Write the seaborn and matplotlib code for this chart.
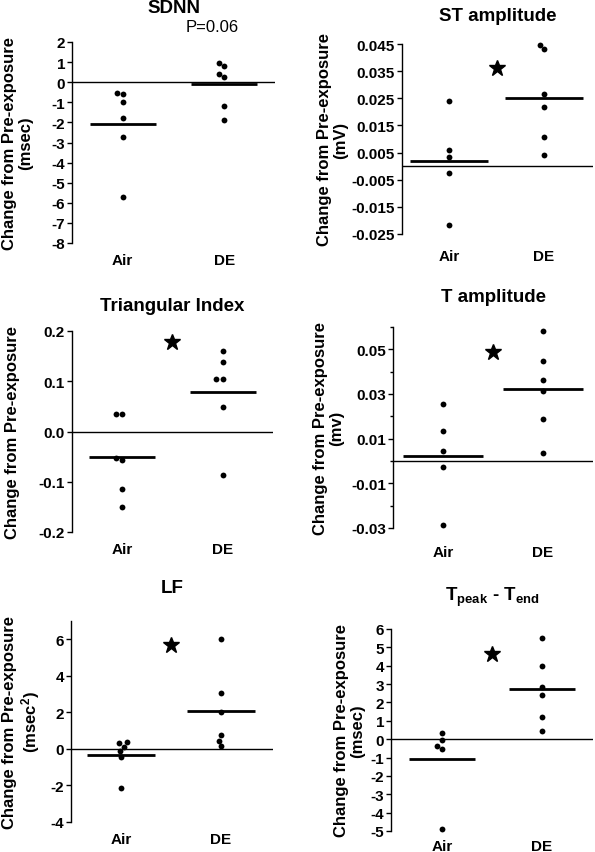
import numpy as np
import pandas as pd
import matplotlib
matplotlib.use("Agg")
import matplotlib.pyplot as plt
from matplotlib.ticker import FixedLocator, FormatStrFormatter
import seaborn as sns

sns.set_theme(style="ticks")
plt.rcParams['font.family'] = ['Liberation Sans', 'DejaVu Sans']
plt.rcParams['font.weight'] = 'bold'
plt.rcParams['axes.unicode_minus'] = False
plt.rcParams['mathtext.fontset'] = 'custom'
plt.rcParams['mathtext.rm'] = 'Liberation Sans'
plt.rcParams['mathtext.bf'] = 'Liberation Sans:bold'
plt.rcParams['mathtext.it'] = 'Liberation Sans:italic'

groups = ['Air', 'DE']

# valores (mudança em relação à pré-exposição)
sdnn_air = [-0.61, -0.56, -0.98, -1.78, -2.74, -5.72]
sdnn_de = [0.96, 0.83, 0.43, 0.27, -1.16, -1.86]
st_air = [0.0240, 0.0061, 0.0034, -0.0027, -0.0216]
st_de = [0.0445, 0.0430, 0.0266, 0.0217, 0.0109, 0.0041]
tri_air = [0.034, 0.034, -0.052, -0.056, -0.114, -0.151]
tri_de = [0.161, 0.138, 0.104, 0.104, 0.048, -0.087]
tamp_air = [0.0254, 0.0134, 0.0043, -0.0027, -0.0285]
tamp_de = [0.0584, 0.0449, 0.0363, 0.0315, 0.0190, 0.0037]
lf_air = [0.36, 0.33, 0.11, -0.13, -0.44, -2.15]
lf_de = [5.99, 3.06, 2.00, 0.77, 0.46, 0.16]
tpe_air = [0.31, -0.02, -0.38, -0.53, -4.89]
tpe_de = [5.49, 4.00, 2.82, 2.38, 1.20, 0.42]

titles = ['SDNN', 'ST amplitude', 'Triangular Index', 'T amplitude', 'LF',
          r'T$_\mathbf{peak}$ - T$_\mathbf{end}$']
ylabels = ['Change from Pre-exposure\n(msec)', 'Change from Pre-exposure\n(mV)',
           'Change from Pre-exposure', 'Change from Pre-exposure\n(mv)',
           'Change from Pre-exposure\n(msec$^\\mathbf{2}$)', 'Change from Pre-exposure\n(msec)']
star_y = [None, 0.0363, 0.178, 0.049, 5.66, 4.64]

yticks = [list(range(-8, 3)),
          [-0.025, -0.015, -0.005, 0.005, 0.015, 0.025, 0.035, 0.045],
          [-0.2, -0.1, 0.0, 0.1, 0.2],
          [-0.03, -0.01, 0.01, 0.03, 0.05],
          [-4, -2, 0, 2, 4, 6],
          list(range(-5, 7))]
yfmt = ['%d', '%.3f', '%.1f', '%.2f', '%d', '%d']
ylims = [(-8, 2), (-0.025, 0.045), (-0.2, 0.2), (-0.03, 0.06), (-4, 7), (-5, 6)]

series = [(sdnn_air, sdnn_de), (st_air, st_de), (tri_air, tri_de),
          (tamp_air, tamp_de), (lf_air, lf_de), (tpe_air, tpe_de)]

# layout em pixels: esquerda, topo, direita, base
W, H = 595, 853
rects = [(72, 43, 275, 244), (402, 45, 593, 235), (72, 332, 273, 533),
         (393, 328, 593, 529), (71, 622, 273, 823), (391, 630, 593, 832)]
xlims = [(-0.50, 1.50), (-0.495, 1.516), (-0.495, 1.50),
         (-0.50, 1.50), (-0.50, 1.52), (-0.51, 1.51)]
title_base = [13, 21, 311, 302, 593, 601]
xpad = [7.5, 11, 7, 12, 7, 6]
ylab_x = [18, 333, 13, 329, 22, 350]
mean_w = [48, 56, 48, 58, 49, 48]

fig = plt.figure(figsize=(W / 100, H / 100), dpi=100)

for i, (air, de) in enumerate(series):
    df = pd.DataFrame({'grupo': ['Air'] * len(air) + ['DE'] * len(de),
                       'valor': air + de})
    l, t, r, b = rects[i]
    ax = fig.add_axes([l / W, 1 - b / H, (r - l) / W, (b - t) / H])

    ax.axhline(0, color='black', lw=1, zorder=0)
    sns.swarmplot(data=df, x='grupo', y='valor', order=groups, color='black',
                  size=4.2, ax=ax, clip_on=False, zorder=3)
    sns.pointplot(data=df, x='grupo', y='valor', order=groups, estimator='mean',
                  errorbar=None, color='black', markers='_', linestyles='none',
                  markersize=mean_w[i], markeredgewidth=2, ax=ax, zorder=4)

    if star_y[i] is not None:
        ax.plot([0.5], [star_y[i]], marker='*', color='black', ms=12, ls='none',
                clip_on=False)

    ax.set_xlim(*xlims[i])
    ax.set_ylim(*ylims[i])
    ax.yaxis.set_major_locator(FixedLocator(yticks[i]))
    ax.yaxis.set_major_formatter(FormatStrFormatter(yfmt[i]))
    if i == 3:
        ax.yaxis.set_minor_locator(FixedLocator([-0.02, 0.0, 0.02, 0.04, 0.06]))
        ax.tick_params(axis='y', which='minor', length=2.5, width=1, color='black')
    ax.tick_params(axis='y', direction='out', length=3.5, width=1, labelsize=11,
                   pad=1.5, color='black', labelcolor='black')
    ax.tick_params(axis='x', length=0, labelsize=11, pad=xpad[i], labelcolor='black')
    ax.set_xlabel('')
    ax.set_ylabel('')
    sns.despine(ax=ax, bottom=True)
    ax.spines['left'].set_color('black')
    ax.spines['left'].set_linewidth(1)

    fig.text((l + r) / 2 / W, 1 - title_base[i] / H, titles[i], ha='center',
             va='baseline', fontsize=13.5, fontweight='bold', color='black')
    fig.text(ylab_x[i] / W, 1 - (t + b) / 2 / H, ylabels[i], rotation=90,
             ha='center', va='center', multialignment='center', fontsize=12,
             fontweight='bold', color='black', linespacing=1.1)

fig.text(212 / W, 1 - 32 / H, 'P=0.06', ha='center', va='baseline', fontsize=12,
         fontweight='normal', color='black')

fig.savefig('out.png', dpi=100)
